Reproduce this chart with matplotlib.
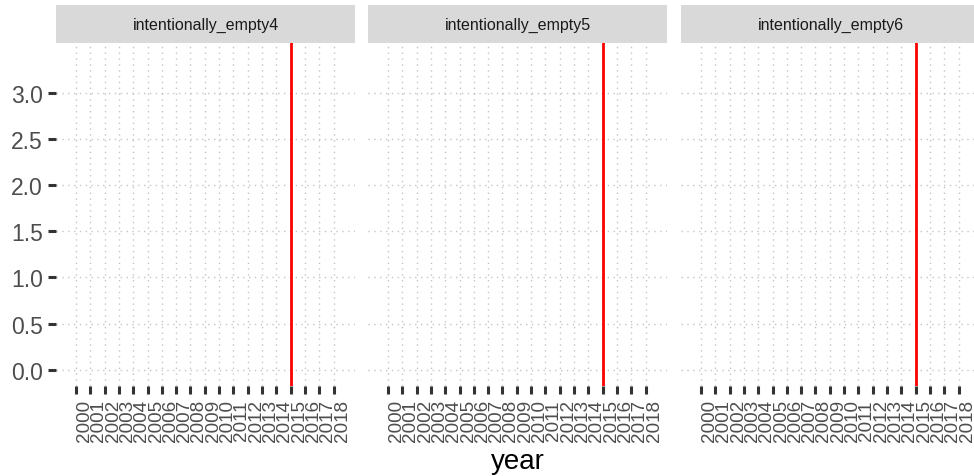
import matplotlib
matplotlib.use("Agg")
import matplotlib.pyplot as plt

# facets and axis values
panels = ["intentionally_empty4", "intentionally_empty5", "intentionally_empty6"]
years = list(range(2000, 2019))
y_ticks = [0.0, 0.5, 1.0, 1.5, 2.0, 2.5, 3.0]
cutoff_year = 2015

plt.rcParams['font.family'] = ['Liberation Sans', 'DejaVu Sans']
plt.rcParams['lines.scale_dashes'] = False

W, H = 974, 477
fig = plt.figure(figsize=(W / 100, H / 100), dpi=100)

# panel positions in pixels (left edge), width, top/bottom
lefts = [56, 368, 681]
pw = 299
top, bottom = 44, 387
strip_top = 6

dot = (0, (1.0, 3.2))

for i, name in enumerate(panels):
    ax = fig.add_axes([lefts[i] / W, 1 - bottom / H, pw / W, (bottom - top) / H])
    ax.set_xlim(1998.6, 2019.5)
    ax.set_ylim(-0.177, 3.54)
    for s in ax.spines.values():
        s.set_visible(False)

    for yv in y_ticks:
        ax.axhline(yv, color='#c4c4c4', lw=1.0, linestyle=dot, zorder=1)
    for xv in years:
        ax.axvline(xv, color='#c4c4c4', lw=1.0, linestyle=dot, zorder=1)

    ax.axvline(cutoff_year, color='#ff0000', lw=2.0, zorder=3)

    ax.set_xticks(years)
    ax.set_xticklabels([str(y) for y in years], rotation=90, ha='left', va='top',
                       fontsize=13.6, color='#4d4d4d')
    ax.tick_params(axis='x', length=6, width=2.2, color='#333333', pad=3.5)
    if i == 0:
        ax.set_yticks(y_ticks)
        ax.set_yticklabels([f"{v:.1f}" for v in y_ticks], fontsize=16.5, color='#4d4d4d')
        ax.tick_params(axis='y', length=6, width=2.2, color='#333333', pad=3.5)
    else:
        ax.set_yticks([])

    # facet strip
    sax = fig.add_axes([lefts[i] / W, 1 - top / H, pw / W, (top - strip_top) / H])
    sax.set_facecolor('#d9d9d9')
    sax.set_xticks([])
    sax.set_yticks([])
    for s in sax.spines.values():
        s.set_visible(False)
    sax.text(0.5, 0.5, name, ha='center', va='center', fontsize=11.5,
             color='#1a1a1a', transform=sax.transAxes)

fig.text(517.5 / W, 1 - 462 / H, "year", ha='center', va='center', fontsize=20, color='black')

fig.savefig("out.png", dpi=100)
